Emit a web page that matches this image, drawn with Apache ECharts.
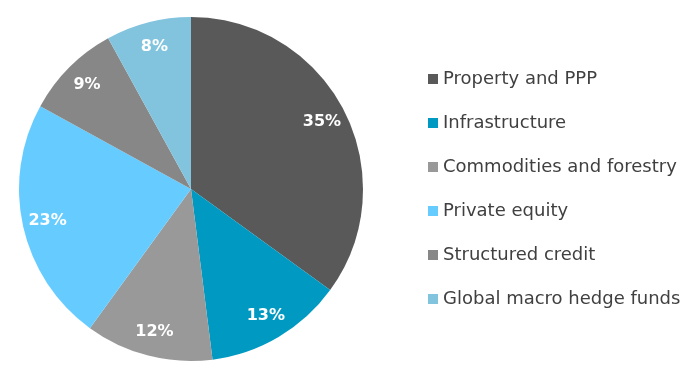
<!DOCTYPE html>
<html>
<head>
<meta charset="utf-8">
<script src="https://cdn.jsdelivr.net/npm/echarts@6/dist/echarts.min.js"></script>
<style>
html, body { margin: 0; padding: 0; background: #fff; }
#chart { width: 690px; height: 378px; }
</style>
</head>
<body>
<div id="chart"></div>
<script>
var categories = ['Property and PPP', 'Infrastructure', 'Commodities and forestry', 'Private equity', 'Structured credit', 'Global macro hedge funds'];
var shares = [35, 13, 12, 23, 9, 8];
var colours = ['#595959', '#0099c2', '#999999', '#66ccff', '#878787', '#82c4de'];

var pieData = categories.map(function (name, i) {
	return { name: name, value: shares[i], itemStyle: { color: colours[i] } };
});
var labelData = categories.map(function (name, i) {
	return { name: name, value: shares[i] };
});

var chart = echarts.init(document.getElementById('chart'));
var option = {
	animation: false,
	legend: {
		orient: 'vertical',
		left: 423,
		top: 64,
		icon: 'rect',
		itemWidth: 10,
		itemHeight: 10,
		itemGap: 24,
		data: categories,
		textStyle: {
			fontFamily: 'DejaVu Sans',
			fontSize: 18,
			lineHeight: 20,
			color: '#404040'
		}
	},
	series: [{
		type: 'pie',
		center: [191, 189],
		radius: [0, 172],
		startAngle: 90,
		label: { show: false },
		labelLine: { show: false },
		data: pieData
	}, {
		type: 'pie',
		center: [191, 189],
		radius: [116, 172],
		startAngle: 90,
		silent: true,
		itemStyle: { color: 'transparent' },
		label: {
			show: true,
			position: 'inside',
			formatter: '{c}%',
			fontFamily: 'DejaVu Sans',
			fontWeight: 'bold',
			fontSize: 16,
			color: '#fff'
		},
		labelLine: { show: false },
		data: labelData
	}]
};
chart.setOption(option);
window.addEventListener('resize', function () {
	chart.resize();
});
</script>
</body>
</html>
